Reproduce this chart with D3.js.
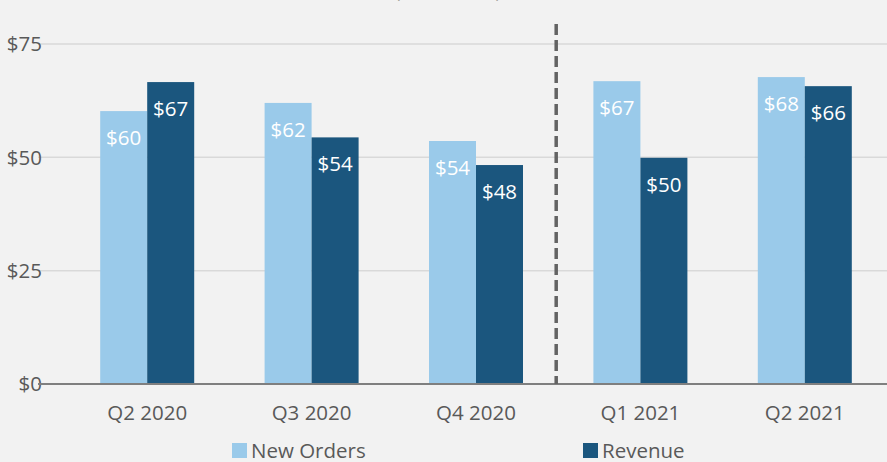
<!DOCTYPE html>
<html>
<head>
<meta charset="utf-8">
<script src="https://cdn.jsdelivr.net/npm/d3@7"></script>
<style>
  html, body { margin: 0; padding: 0; background: #f2f2f2; }
  svg { display: block; }
  text { font-family: "Open Sans", "Liberation Sans", sans-serif; }
</style>
</head>
<body>
<svg id="chart" width="887" height="462"></svg>
<script>
const categories = ["Q2 2020", "Q3 2020", "Q4 2020", "Q1 2021", "Q2 2021"];
const seriesNames = ["New Orders", "Revenue"];
const newOrders = [60.2, 62.0, 53.6, 66.8, 67.7];
const revenue = [66.6, 54.4, 48.3, 49.9, 65.7];
const newOrdersLabels = ["$60", "$62", "$54", "$67", "$68"];
const revenueLabels = ["$67", "$54", "$48", "$50", "$66"];
const yTicks = [0, 25, 50, 75];
const yTickLabels = ["$0", "$25", "$50", "$75"];
const subtitle = "(in millions)";

const colors = { "New Orders": "#9acaea", "Revenue": "#1b567e" };

const W = 887, H = 462;
const svg = d3.select("#chart");
svg.append("rect").attr("width", W).attr("height", H).attr("fill", "#f2f2f2");

const plotLeft = 38, plotRight = 887;
const x = d3.scaleBand().domain(categories).range([65, 887]).paddingInner(0).paddingOuter(0);
const barW = 47;
const x1 = d3.scaleBand().domain(seriesNames).range([0, barW * 2]);
const y = d3.scaleLinear().domain([0, 75]).range([384, 44]);

// subtitle (mostly cut off at top)
svg.append("text").attr("x", 448).attr("y", -3).attr("text-anchor", "middle")
  .attr("font-size", 20).attr("fill", "#595959").text(subtitle);

// gridlines
svg.append("g").selectAll("line").data(yTicks.filter(d => d > 0)).join("line")
  .attr("x1", plotLeft).attr("x2", plotRight)
  .attr("y1", d => y(d)).attr("y2", d => y(d))
  .attr("stroke", "#d9d9d9").attr("stroke-width", 1.5);

// y tick labels
svg.append("g").selectAll("text").data(yTicks).join("text")
  .attr("x", 42).attr("y", d => y(d)).attr("dy", "0.35em")
  .attr("text-anchor", "end").attr("font-size", 20.5).attr("fill", "#595959")
  .text((d, i) => yTickLabels[i]);

// bars
const data = categories.map((c, i) => ({
  cat: c,
  vals: [
    { s: "New Orders", v: newOrders[i], l: newOrdersLabels[i] },
    { s: "Revenue", v: revenue[i], l: revenueLabels[i] }
  ]
}));

const groups = svg.append("g").selectAll("g").data(data).join("g")
  .attr("transform", d => `translate(${x(d.cat) + x.bandwidth() / 2 - barW},0)`);

groups.selectAll("rect").data(d => d.vals).join("rect")
  .attr("x", d => x1(d.s)).attr("width", x1.bandwidth())
  .attr("y", d => y(d.v)).attr("height", d => y(0) - y(d.v))
  .attr("fill", d => colors[d.s]);

groups.selectAll("text").data(d => d.vals).join("text")
  .attr("x", d => x1(d.s) + x1.bandwidth() / 2)
  .attr("y", d => y(d.v) + 34)
  .attr("text-anchor", "middle").attr("font-size", 20.5).attr("fill", "#ffffff")
  .text(d => d.l);

// axis line
svg.append("line").attr("x1", plotLeft).attr("x2", plotRight)
  .attr("y1", y(0)).attr("y2", y(0)).attr("stroke", "#7f7f7f").attr("stroke-width", 2);

// category labels
svg.append("g").selectAll("text").data(categories).join("text")
  .attr("x", d => x(d) + x.bandwidth() / 2).attr("y", 413).attr("dy", "0.35em")
  .attr("text-anchor", "middle").attr("font-size", 20.5).attr("fill", "#595959")
  .text(d => d);

// dashed divider between Q4 2020 and Q1 2021
const divX = x("Q1 2021") - 2;
svg.append("line").attr("x1", divX).attr("x2", divX)
  .attr("y1", 24).attr("y2", y(0))
  .attr("stroke", "#636363").attr("stroke-width", 3.5).attr("stroke-dasharray", "11,5");

// legend
const legendItems = [
  { s: "New Orders", x: 232 },
  { s: "Revenue", x: 583 }
];
const lg = svg.append("g").selectAll("g").data(legendItems).join("g")
  .attr("transform", d => `translate(${d.x},443)`);
lg.append("rect").attr("width", 15).attr("height", 15).attr("fill", d => colors[d.s]);
lg.append("text").attr("x", 19).attr("y", 8).attr("dy", "0.35em")
  .attr("font-size", 20.5).attr("fill", "#595959").text(d => d.s);
</script>
</body>
</html>
